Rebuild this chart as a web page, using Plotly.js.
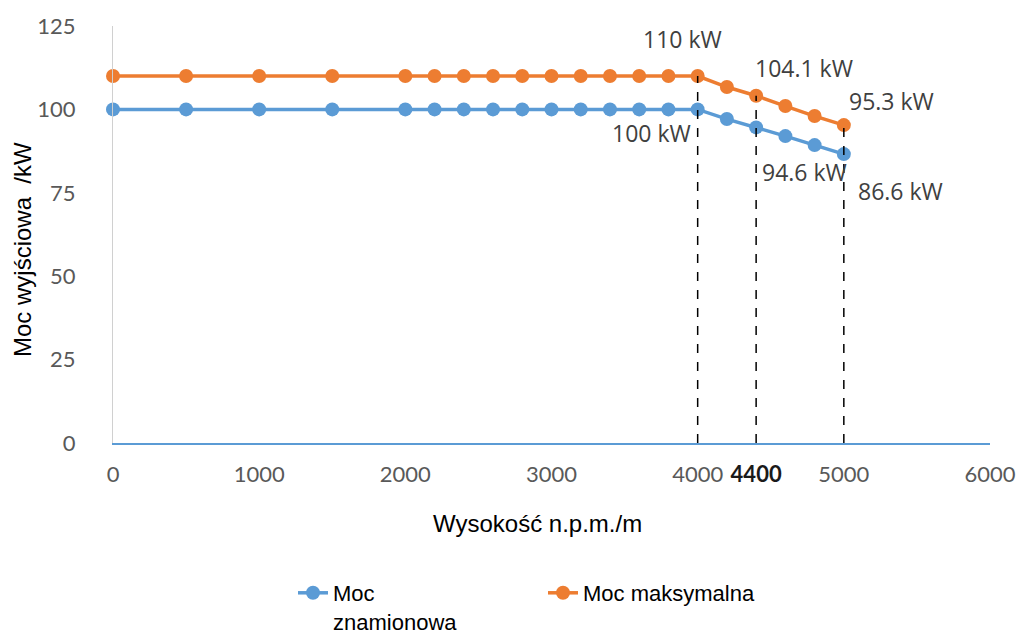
<!DOCTYPE html>
<html><head><meta charset="utf-8">
<script src="https://cdn.plot.ly/plotly-3.0.1.min.js"></script>
<style>body{margin:0;background:#fff}#c{width:1019px;height:641px}</style>
</head><body><div id="c"></div>
<script>
const altitude = [0,500,1000,1500,2000,2200,2400,2600,2800,3000,3200,3400,3600,3800,4000,4200,4400,4600,4800,5000];
const ratedPower = [100,100,100,100,100,100,100,100,100,100,100,100,100,100,100,97.1,94.6,92.0,89.3,86.6];
const maxPower   = [110,110,110,110,110,110,110,110,110,110,110,110,110,110,110,106.7,104.1,101.0,98.0,95.3];
const seriesNames = ['Moc<br>znamionowa','Moc maksymalna'];
const xTitle = 'Wysokość n.p.m./m';
const yTitle = 'Moc wyjściowa&nbsp; /kW';
const xTicks = [0,1000,2000,3000,4000,4400,5000,6000];
const xTickText = ['0','1000','2000','3000','4000','<span style="color:#1a1a1a"><b>4400</b></span>','5000','6000'];
const yTicks = [0,25,50,75,100,125];
const markedIdx = [14,16,19];
const labelTexts = {max:['110 kW','104.1 kW','95.3 kW'], rated:['100 kW','94.6 kW','86.6 kW']};

const blue='#5B9BD5', orange='#ED7D31';
const traces=[
 {x:altitude,y:ratedPower,name:seriesNames[0],mode:'lines+markers',line:{color:blue,width:3.5},marker:{color:blue,size:14},cliponaxis:false},
 {x:altitude,y:maxPower,name:seriesNames[1],mode:'lines+markers',line:{color:orange,width:3.5},marker:{color:orange,size:14},cliponaxis:false}
];
const shapes=markedIdx.map(i=>({type:'line',xref:'x',yref:'y',x0:altitude[i],x1:altitude[i],y0:0,y1:maxPower[i],line:{color:'#000',width:1.5,dash:'dash'},layer:'above'}));
const lblFont={family:'Open Sans, Arial',size:23,color:'#404040'};
// screen offsets (dx right, dy down) of label centres from their points
const offMax=[[-15,-37],[48,-28],[48,-24]];
const offRated=[[-46,24],[48,45],[57,37]];
const ann=[];
markedIdx.forEach((i,k)=>{
 ann.push({x:altitude[i],y:maxPower[i],text:labelTexts.max[k],showarrow:false,xshift:offMax[k][0],yshift:-offMax[k][1],font:lblFont});
 ann.push({x:altitude[i],y:ratedPower[i],text:labelTexts.rated[k],showarrow:false,xshift:offRated[k][0],yshift:-offRated[k][1],font:lblFont});
});
const titleFont={family:'Liberation Sans, Arial',size:24,color:'#000'};
ann.push({xref:'paper',yref:'paper',x:(537-113)/877,y:(443-523)/417,text:xTitle,showarrow:false,xanchor:'center',yanchor:'middle',font:titleFont});
ann.push({xref:'paper',yref:'paper',x:(22-113)/877,y:(443-250)/417,text:yTitle,showarrow:false,textangle:-90,xanchor:'center',yanchor:'middle',font:titleFont});
const layout={
 width:1019,height:641,margin:{l:113,r:29,t:26,b:198,autoexpand:false},
 paper_bgcolor:'#fff',plot_bgcolor:'#fff',
 showlegend:true,
 legend:{orientation:'h',x:(293-113)/877,xanchor:'left',y:(443-572)/417,yanchor:'top',entrywidth:205,entrywidthmode:'pixels',font:{family:'Liberation Sans, Arial',size:22,color:'#000'},valign:'top',tracegroupgap:0},
 xaxis:{range:[0,6000],tickvals:xTicks,ticktext:xTickText,showgrid:false,zeroline:false,showline:true,linecolor:blue,linewidth:2,ticks:'',ticklabelstandoff:11,automargin:false,
   tickfont:{family:'Lato, Arial',size:22,color:'#595959'}},
 yaxis:{range:[0,125],tickvals:yTicks,showgrid:false,zeroline:false,showline:true,linecolor:'#d0d0d0',linewidth:1,ticks:'',ticklabelstandoff:32,automargin:false,
   tickfont:{family:'Lato, Arial',size:22,color:'#595959'}},
 shapes:shapes,annotations:ann
};
Plotly.newPlot('c',traces,layout,{displayModeBar:false});
</script></body></html>
